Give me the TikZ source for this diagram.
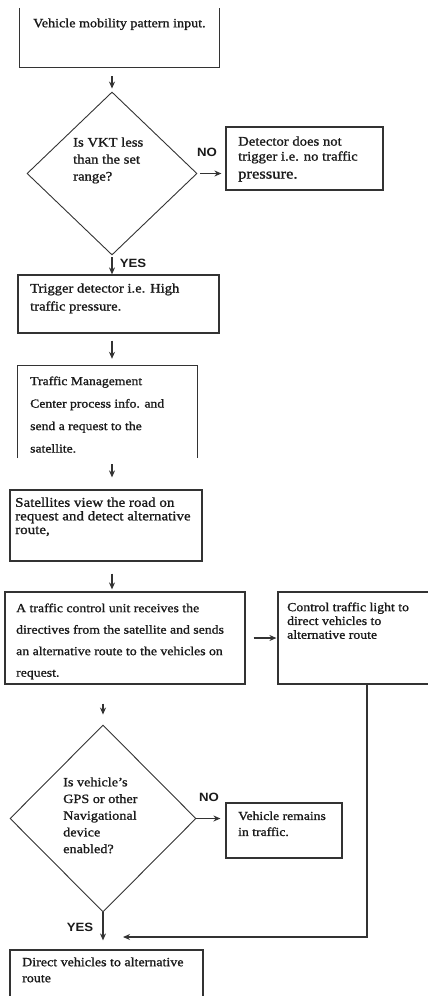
\documentclass[tikz,border=0pt]{standalone}
\usepackage{fontspec}
\setmainfont[FakeStretch=1.12,FakeBold=1.2]{Liberation Serif}
\newfontfamily\lblfont[FakeStretch=1.1]{Liberation Sans}
\usetikzlibrary{shapes.geometric,arrows.meta}
\definecolor{ln}{HTML}{333333}
\definecolor{tx}{HTML}{1A1A1A}
\tikzset{
  boxnode/.style={rectangle, inner sep=0pt, draw=none},
  boxfull/.style={rectangle, inner sep=0pt, draw=ln, line width=1.2pt},
  edge/.style={draw=ln, line width=1.2pt},
  decision/.style={diamond, inner sep=0pt, draw=ln, line width=0.9pt},
  arr/.style={draw=ln, line width=1.1pt, -{Stealth[length=7pt,width=6pt]}},
  txt/.style={text=tx, align=left, inner sep=0pt, anchor=north west},
  lbl/.style={text=tx, inner sep=0pt, font=\lblfont\bfseries\fontsize{12}{14}\selectfont}
}
\begin{document}
\begin{tikzpicture}[x=1pt,y=-1pt]
\useasboundingbox (0,0) rectangle (428,996);
\clip (0,0) rectangle (428,996);

% boxes
\node[boxnode, minimum width=199pt, minimum height=59pt] (b1) at (119.5,37.5) {};
\draw[edge] (b1.north west) -- (b1.south west) -- (b1.south east) -- (b1.north east);
\node[decision, minimum width=170pt, minimum height=163pt] (d1) at (112,173.5) {};
\node[boxfull, minimum width=157pt, minimum height=63pt] (n1) at (304.5,158.5) {};
\node[boxfull, minimum width=201pt, minimum height=58pt] (b2) at (118.5,304) {};
\node[boxnode, minimum width=179pt, minimum height=92pt] (b3) at (107.5,412) {};
\draw[edge] (b3.south west) -- (b3.north west) -- (b3.north east) -- (b3.south east);
\node[boxfull, minimum width=192pt, minimum height=71pt] (b4) at (106,525.5) {};
\node[boxfull, minimum width=240pt, minimum height=92pt] (b5) at (125,638) {};
\node[boxfull, minimum width=178pt, minimum height=92pt] (b6) at (367,638) {};
\node[decision, minimum width=186pt, minimum height=187pt] (d2) at (103,818.5) {};
\node[boxfull, minimum width=116pt, minimum height=55pt] (n2) at (284,830.5) {};
\node[boxfull, minimum width=193pt, minimum height=70pt] (b7) at (106.5,985) {};

% texts
\node[txt, font=\fontsize{12.6}{14}\selectfont] (t1) at (33,18.3) {Vehicle mobility pattern input.};
\node[txt, font=\fontsize{13.1}{17}\selectfont] (td1) at (73,137.3) {Is VKT less\\than the set\\range?};
\node[txt, font=\fontsize{13.1}{15}\selectfont] (tn1) at (238,136.3) {Detector does not\\trigger i.e. no traffic\\[3pt]{\fontsize{14.8}{16}\selectfont pressure.}};
\node[txt, font=\fontsize{13}{18}\selectfont] (t2) at (30,283.3) {Trigger detector i.e. High\\traffic pressure.};
\node[txt, font=\fontsize{12.2}{22.5}\selectfont] (t3) at (30,376.3) {Traffic Management\\Center process info. and\\send a request to the\\satellite.};
\node[txt, font=\fontsize{13.4}{13.6}\selectfont] (t4) at (15,497.3) {Satellites view the road on\\request and detect alternative\\route,};
\node[txt, font=\fontsize{12.3}{21.5}\selectfont] (t5) at (16,603.3) {A traffic control unit receives the\\directives from the satellite and sends\\an alternative route to the vehicles on\\request.};
\node[txt, font=\fontsize{12.3}{13.8}\selectfont] (t6) at (287,602.3) {Control traffic light to\\direct vehicles to\\alternative route};
\node[txt, font=\fontsize{12.7}{16.7}\selectfont] (td2) at (63,777.3) {Is vehicle's\\GPS or other\\Navigational\\device\\enabled?};
\node[txt, font=\fontsize{12.2}{16}\selectfont] (tn2) at (238,811.3) {Vehicle remains\\in traffic.};
\node[txt, font=\fontsize{12.5}{16}\selectfont] (t7) at (22,957.3) {Direct vehicles to alternative\\route};

% labels
\node[lbl] (no1) at (207,152) {NO};
\node[lbl] (yes1) at (133,263) {YES};
\node[lbl] (no2) at (209,797) {NO};
\node[lbl] (yes2) at (80,927) {YES};

% connectors
\draw[arr, shorten <=9pt, shorten >=3pt] (d1.north |- b1.south) -- (d1.north);
\draw[arr, shorten <=3pt, shorten >=4pt] (d1.east) -- (d1.east -| n1.west);
\draw[arr, shorten <=2pt] (d1.south) -- (d1.south |- b2.north);
\draw[arr, shorten <=7pt, shorten >=7pt] (d1.south |- b2.south) -- (d1.south |- b3.north);
\draw[arr, shorten <=6pt, shorten >=12pt] (d1.south |- b3.south) -- (d1.south |- b4.north);
\draw[arr, shorten <=12pt, shorten >=2pt] (d1.south |- b4.south) -- (d1.south |- b5.north);
\draw[arr, shorten <=8pt, shorten >=1pt] (b5.east) -- (b6.west);
\draw[arr, shorten <=19pt, shorten >=10pt] (d2.north |- b5.south) -- (d2.north);
\draw[arr, line width=1.8pt, shorten >=5pt] (d2.east) -- (d2.east -| n2.west);
\draw[arr, shorten >=9pt] (d2.south) -- (d2.south |- b7.north);
\coordinate (ret) at (123,937);
\draw[arr] (b6.south) |- (ret);
\end{tikzpicture}
\end{document}
